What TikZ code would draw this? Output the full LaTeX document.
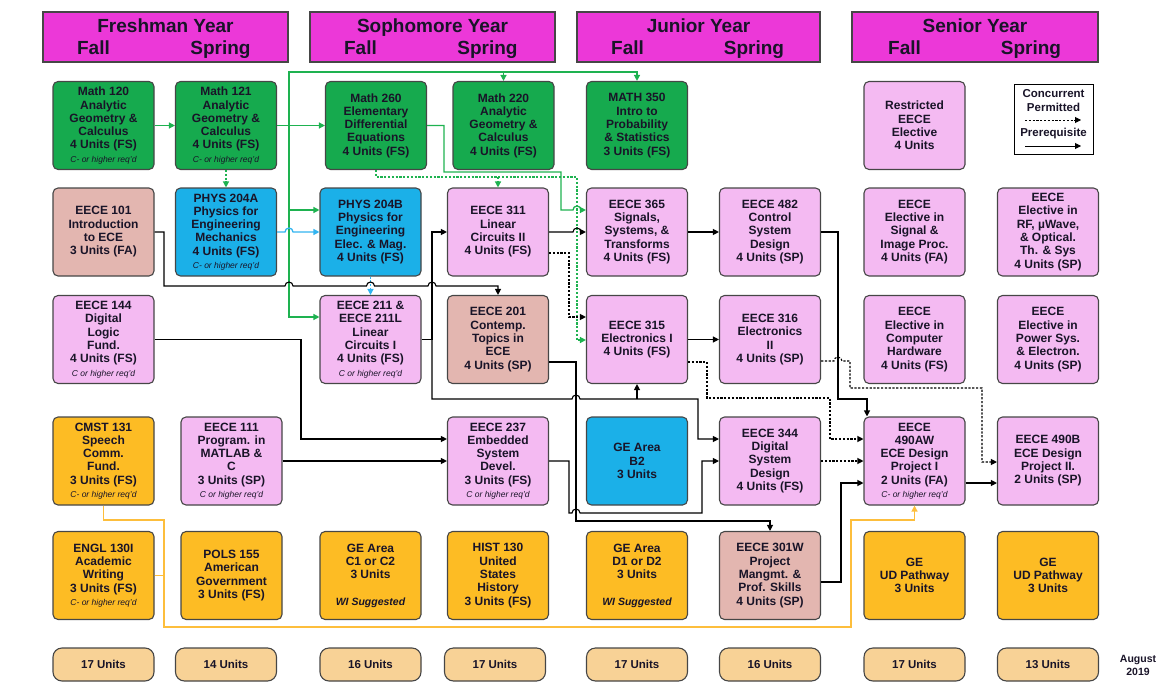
\documentclass[tikz,border=0pt]{standalone}
\usepackage{fontspec}
\setmainfont{Liberation Sans}
\usetikzlibrary{arrows.meta}
\definecolor{grnc}{RGB}{22,170,78}
\definecolor{pnkc}{RGB}{244,186,242}
\definecolor{rosc}{RGB}{227,182,176}
\definecolor{bluc}{RGB}{27,176,232}
\definecolor{orac}{RGB}{253,188,36}
\definecolor{unic}{RGB}{248,210,150}
\definecolor{magc}{RGB}{236,56,216}
\definecolor{bordc}{RGB}{70,70,70}
\definecolor{txtc}{RGB}{25,20,40}
\definecolor{grnl}{RGB}{30,178,80}
\definecolor{blul}{RGB}{50,180,240}
\definecolor{yell}{RGB}{253,190,60}
\newcommand\bxf{\bfseries\fontsize{12}{13.3}\selectfont}
\newcommand\smi[1]{{\fontsize{8.5}{13.3}\selectfont\mdseries\itshape #1}}
\newcommand\wis{{\fontsize{10.5}{13.3}\selectfont\bfseries\itshape WI Suggested}}
\newcommand\hdf{\bfseries\fontsize{19}{22}\selectfont}
\newcommand\unf{\bfseries\fontsize{11.5}{13}\selectfont}
\newcommand\lgf{\bfseries\fontsize{11.5}{13}\selectfont}
\begin{document}
\begin{tikzpicture}[x=1pt,y=-1pt,
  box/.style={draw=bordc, line width=1.1pt, rounded corners=5pt, minimum width=101pt, minimum height=88pt, inner sep=0pt, align=center, font=\bxf, text=txtc},
  grn/.style={box, fill=grnc},
  pnk/.style={box, fill=pnkc},
  ros/.style={box, fill=rosc},
  blu/.style={box, fill=bluc},
  ora/.style={box, fill=orac},
  ubox/.style={draw=bordc, line width=1.1pt, rounded corners=9pt, fill=unic, minimum width=101pt, minimum height=33pt, inner sep=0pt, font=\unf, text=txtc},
  hdr/.style={draw=bordc, line width=1.3pt, fill=magc, minimum height=50pt, inner sep=0pt},
  htx/.style={font=\hdf, text=txtc, inner sep=0pt, anchor=base},
  arr/.style={-{Triangle[length=6pt,width=6pt]}},
  bk/.style={draw=black, line width=1.1pt},
  gl/.style={draw=grnl, line width=1.3pt},
  bl/.style={draw=blul, line width=1.3pt},
  yl/.style={draw=yell, line width=1.3pt},
  dsh/.style={dash pattern=on 2.2pt off 1.6pt},
]
\useasboundingbox (0,0) rectangle (1161,682);

% headers
\node[hdr, minimum width=245pt] (h1) at (165.5,37) {};
\node[htx] (h1t) at (165.5,33) {Freshman Year};
\node[htx] (h1f) at (93.5,55) {Fall};
\node[htx] (h1s) at (220.5,55) {Spring};
\node[hdr, minimum width=245pt] (h2) at (432.5,37) {};
\node[htx] (h2t) at (432.5,33) {Sophomore Year};
\node[htx] (h2f) at (360.5,55) {Fall};
\node[htx] (h2s) at (487.5,55) {Spring};
\node[hdr, minimum width=243pt] (h3) at (698.5,37) {};
\node[htx] (h3t) at (698.5,33) {Junior Year};
\node[htx] (h3f) at (627.5,55) {Fall};
\node[htx] (h3s) at (754,55) {Spring};
\node[hdr, minimum width=246pt] (h4) at (975,37) {};
\node[htx] (h4t) at (975,33) {Senior Year};
\node[htx] (h4f) at (904.5,55) {Fall};
\node[htx] (h4s) at (1031,55) {Spring};

% row 1
\node[grn] (m120) at (103.5,125.5) {Math 120\\Analytic\\Geometry \&\\Calculus\\4 Units (FS)\\\smi{C- or higher req'd}};
\node[grn] (m121) at (226,125.5) {Math 121\\Analytic\\Geometry \&\\Calculus\\4 Units (FS)\\\smi{C- or higher req'd}};
\node[grn] (m260) at (376,125.5) {Math 260\\Elementary\\Differential\\Equations\\4 Units (FS)};
\node[grn] (m220) at (503.5,125.5) {Math 220\\Analytic\\Geometry \&\\Calculus\\4 Units (FS)};
\node[grn] (m350) at (637,125.5) {MATH 350\\Intro to\\Probability\\\& Statistics\\3 Units (FS)};
\node[pnk] (rest) at (914.5,125.5) {Restricted\\EECE\\Elective\\4 Units};

% legend
\node[draw=black, line width=1pt, fill=white, minimum width=79pt, minimum height=69pt, inner sep=0pt] (leg) at (1053.5,119.5) {};
\node[font=\lgf, text=txtc, inner sep=0pt] (legc) at (1053.5,94) {Concurrent};
\node[font=\lgf, text=txtc, inner sep=0pt] (legp) at (1053.5,107) {Permitted};
\node[font=\lgf, text=txtc, inner sep=0pt] (legr) at (1053.5,134) {Prerequisite};
\coordinate (la1) at (1025,120);
\coordinate (la2) at (1081,120);
\coordinate (lb1) at (1025,146);
\coordinate (lb2) at (1081,146);
\draw[bk, line width=0.9pt, dsh, arr] (la1) -- (la2);
\draw[bk, line width=0.9pt, arr] (lb1) -- (lb2);

% row 2
\node[ros] (e101) at (103.5,232) {EECE 101\\Introduction\\to ECE\\3 Units (FA)};
\node[blu] (p204a) at (226,232) {PHYS 204A\\Physics for\\Engineering\\Mechanics\\4 Units (FS)\\\smi{C- or higher req'd}};
\node[blu] (p204b) at (370.5,232) {PHYS 204B\\Physics for\\Engineering\\Elec. \& Mag.\\4 Units (FS)};
\node[pnk] (e311) at (498,232) {EECE 311\\Linear\\Circuits II\\4 Units (FS)};
\node[pnk] (e365) at (637,232) {EECE 365\\Signals,\\Systems, \&\\Transforms\\4 Units (FS)};
\node[pnk] (e482) at (770,232) {EECE 482\\Control\\System\\Design\\4 Units (SP)};
\node[pnk] (sig) at (914.5,232) {EECE\\Elective in\\Signal \&\\Image Proc.\\4 Units (FA)};
\node[pnk] (rf) at (1048,232) {EECE\\Elective in\\RF, µWave,\\\& Optical.\\Th. \& Sys\\4 Units (SP)};

% row 3
\node[pnk] (e144) at (103.5,339.5) {EECE 144\\Digital\\Logic\\Fund.\\4 Units (FS)\\\smi{C or higher req'd}};
\node[pnk] (e211) at (370.5,339.5) {EECE 211 \&\\EECE 211L\\Linear\\Circuits I\\4 Units (FS)\\\smi{C or higher req'd}};
\node[ros] (e201) at (498,339.5) {EECE 201\\Contemp.\\Topics in\\ECE\\4 Units (SP)};
\node[pnk] (e315) at (637,339.5) {EECE 315\\Electronics I\\4 Units (FS)};
\node[pnk] (e316) at (770,339.5) {EECE 316\\Electronics\\II\\4 Units (SP)};
\node[pnk] (hw) at (914.5,339.5) {EECE\\Elective in\\Computer\\Hardware\\4 Units (FS)};
\node[pnk] (pw) at (1048,339.5) {EECE\\Elective in\\Power Sys.\\\& Electron.\\4 Units (SP)};

% row 4
\node[ora] (cmst) at (103.5,461) {CMST 131\\Speech\\Comm.\\Fund.\\3 Units (FS)\\\smi{C- or higher req'd}};
\node[pnk] (e111) at (231.5,461) {EECE 111\\Program. in\\MATLAB \&\\C\\3 Units (SP)\\\smi{C or higher req'd}};
\node[pnk] (e237) at (498,461) {EECE 237\\Embedded\\System\\Devel.\\3 Units (FS)\\\smi{C or higher req'd}};
\node[blu] (b2) at (637,461) {GE Area\\B2\\3 Units};
\node[pnk] (e344) at (770,461) {EECE 344\\Digital\\System\\Design\\4 Units (FS)};
\node[pnk] (e490a) at (914.5,461) {EECE\\490AW\\ECE Design\\Project I\\2 Units (FA)\\\smi{C- or higher req'd}};
\node[pnk] (e490b) at (1048,461) {EECE 490B\\ECE Design\\Project II.\\2 Units (SP)};

% row 5
\node[ora] (engl) at (103.5,575.5) {ENGL 130I\\Academic\\Writing\\3 Units (FS)\\\smi{C- or higher req'd}};
\node[ora] (pols) at (231.5,575.5) {POLS 155\\American\\Government\\3 Units (FS)};
\node[ora] (c1) at (370.5,575.5) {GE Area\\C1 or C2\\3 Units\\[13pt]\wis};
\node[ora] (hist) at (498,575.5) {HIST 130\\United\\States\\History\\3 Units (FS)};
\node[ora] (d1) at (637,575.5) {GE Area\\D1 or D2\\3 Units\\[13pt]\wis};
\node[ros] (e301) at (770,575.5) {EECE 301W\\Project\\Mangmt. \&\\Prof. Skills\\4 Units (SP)};
\node[ora] (ud1) at (914.5,575.5) {GE\\UD Pathway\\3 Units};
\node[ora] (ud2) at (1048,575.5) {GE\\UD Pathway\\3 Units};

% row 6
\node[ubox] (u1) at (103.5,664.5) {17 Units};
\node[ubox] (u2) at (226,664.5) {14 Units};
\node[ubox] (u3) at (370.5,664.5) {16 Units};
\node[ubox] (u4) at (495,664.5) {17 Units};
\node[ubox] (u5) at (637,664.5) {17 Units};
\node[ubox] (u6) at (770,664.5) {16 Units};
\node[ubox] (u7) at (914.5,664.5) {17 Units};
\node[ubox] (u8) at (1048,664.5) {13 Units};
\node[font=\bfseries\fontsize{10.5}{13}\selectfont, text=txtc, align=center, inner sep=0pt] (aug) at (1138,665) {August\\2019};

% green connectors
\draw[gl,arr] (m120.east) -- (m121.west);
\draw[gl,arr] (m121.east) -- (m260.west);
\draw[gl,arr] (289,125.5) -- (289,72) -- (637,72) -- (m350.north);
\draw[gl,arr] (503.5,72) -- (m220.north);
\draw[gl,arr] (289,125.5) -- (289,317) -- (e211.west |- 0,317);
\draw[gl,arr] (289,210) -- (p204b.west |- 0,210);
\draw[gl,dsh,arr] (m121.south) -- (p204a.north);
\draw[gl,arr] (m260.east) -- (444,125.5) -- (444,172) -- (561,172) -- (561,210) -- (573,210) arc[start angle=180,end angle=360,radius=4] -- (e365.west |- 0,210);
\draw[gl,dsh,arr] (m260.south) -- (376,177) -- (577,177) -- (577,340) -- (e315.west |- 0,340);
\draw[gl,dsh,arr] (498,177) -- (e311.north);

% blue connectors
\draw[bl,arr] (p204a.east) -- (285,232) arc[start angle=180,end angle=360,radius=4] -- (p204b.west);
\draw[bl,dsh,arr] (p204b.south) -- (e211.north);

% black connectors
\draw[bk,arr] (e101.east) -- (164,232) -- (164,286) -- (285,286) arc[start angle=180,end angle=360,radius=4] -- (366.5,286) arc[start angle=180,end angle=360,radius=4] -- (428,286) arc[start angle=180,end angle=360,radius=4] -- (498,286) -- (e201.north);
\draw[bk,arr] (e211.east) -- (432,339.5) -- (432,232) -- (e311.west);
\draw[bk,arr] (432,339.5) -- (432,399) -- (572,399) arc[start angle=180,end angle=360,radius=4] -- (698,399) -- (698,439) -- (e344.west |- 0,439);
\draw[bk,arr] (637,399) -- (e315.south);
\draw[bk,arr] (e144.east) -- (301,339.5) -- (301,439) -- (e237.west |- 0,439);
\draw[bk,arr] (e111.east) -- (e237.west);
\draw[bk,arr] (e201.east |- 0,362) -- (576,362) -- (576,521) -- (770,521) -- (e301.north);
\draw[bk,arr] (e237.east) -- (569,461) -- (569,513) -- (572,513) arc[start angle=180,end angle=360,radius=4] -- (702,513) -- (702,461) -- (e344.west);
\draw[bk,arr] (e311.east) -- (573,232) arc[start angle=180,end angle=360,radius=4] -- (e365.west);
\draw[bk,dsh,arr] (e311.east |- 0,253) -- (569,253) -- (569,317) -- (e315.west |- 0,317);
\draw[bk,arr] (e365.east) -- (e482.west);
\draw[bk,arr] (e315.east) -- (e316.west);
\draw[bk,arr] (e482.east) -- (838,232) -- (838,399) -- (867,399) -- (e490a.north -| 867,0);
\draw[bk,dsh,arr] (e315.east |- 0,362) -- (707,362) -- (707,398) -- (830,398) -- (830,439) -- (e490a.west |- 0,439);
\draw[bk,dsh,arr] (e316.east |- 0,361) -- (834,361) arc[start angle=180,end angle=360,radius=4] -- (850,361) -- (850,388) -- (982,388) -- (982,462) -- (e490b.west |- 0,462);
\draw[bk,dsh,arr] (e344.east) -- (e490a.west);
\draw[bk,arr] (e301.east |- 0,582) -- (841,582) -- (841,483) -- (e490a.west |- 0,483);
\draw[bk,arr] (e490a.east |- 0,483) -- (e490b.west |- 0,483);

% yellow connectors
\draw[yl,arr] (cmst.south) -- (103.5,520) -- (164,520) -- (164,627) -- (851,627) -- (851,520) -- (914.5,520) -- (e490a.south);
\draw[yl] (engl.east) -- (164,575.5);
\end{tikzpicture}
\end{document}
